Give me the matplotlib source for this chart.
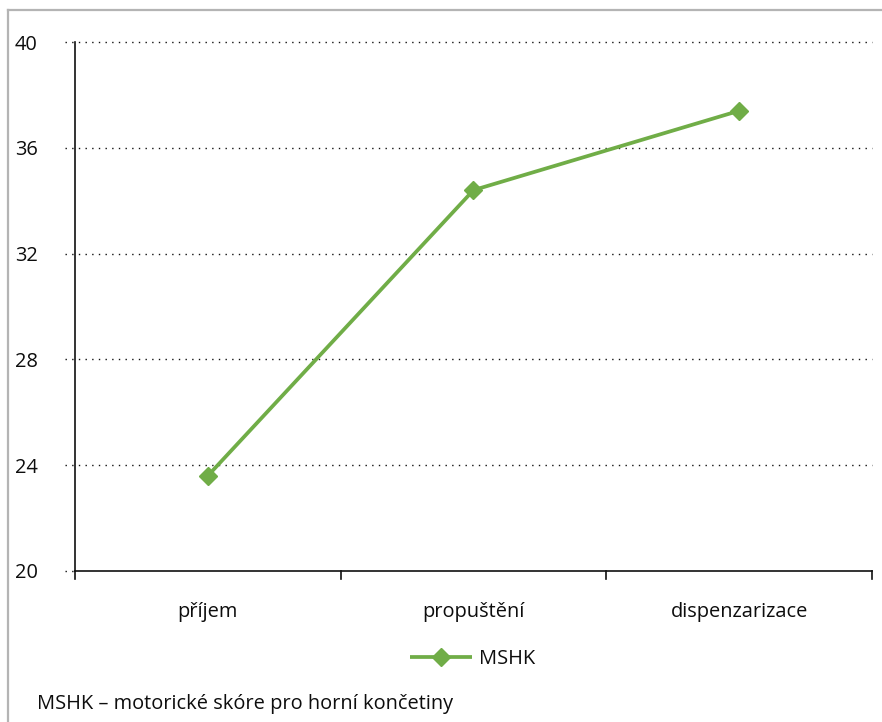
import matplotlib
matplotlib.use("Agg")
import matplotlib.pyplot as plt
from matplotlib.lines import Line2D

plt.rcParams['font.family'] = ['Open Sans', 'DejaVu Sans']

categories = ["příjem", "propuštění", "dispenzarizace"]
values = [23.6, 34.4, 37.4]
series_name = "MSHK"
y_ticks = [20, 24, 28, 32, 36, 40]
footnote = "MSHK – motorické skóre pro horní končetiny"

W, H = 882, 722
fig = plt.figure(figsize=(W / 100, H / 100), dpi=100)
ax = fig.add_axes([75 / W, 1 - 571 / H, (872 - 75) / W, (571 - 42) / H])

green = "#70AD47"
txt = "#0d0d0d"
fs = 14.4
x = list(range(len(categories)))
ax.plot(x, values, color=green, lw=2.7, marker="D", ms=9, label=series_name,
        solid_capstyle="butt", zorder=3)

ax.set_xlim(-0.5, len(categories) - 0.5)
ax.set_ylim(y_ticks[0], y_ticks[-1])
ax.set_yticks(y_ticks)
ax.set_yticklabels([str(t) for t in y_ticks])
ax.set_xticks(x)
ax.set_xticklabels(categories)

# gridlines (dotted, extend slightly left of axis)
dots = (0, (1, 3.8))
for t in y_ticks[1:]:
    ax.plot([-10 / (872 - 75), 1], [t, t], transform=ax.get_yaxis_transform(),
            color="#111111", lw=1.0, ls=dots, clip_on=False, zorder=1)
ax.plot([-10 / (872 - 75), 0], [20, 20], transform=ax.get_yaxis_transform(),
        color="#111111", lw=1.0, ls=dots, clip_on=False, zorder=1)

for s in ["top", "right"]:
    ax.spines[s].set_visible(False)
for s in ["left", "bottom"]:
    ax.spines[s].set_linewidth(1.2)
    ax.spines[s].set_color("#111111")

ax.tick_params(axis="y", length=0, pad=27, labelsize=fs, colors=txt)
ax.tick_params(axis="x", length=0, pad=22.5, labelsize=fs, colors=txt)

# category boundary ticks
for b in [-0.5, 0.5, 1.5, 2.5]:
    ax.plot([b, b], [0, -8 / (571 - 42)], transform=ax.get_xaxis_transform(),
            color="#111111", lw=1.2, clip_on=False)

leg = fig.legend(loc="center", bbox_to_anchor=(473 / W, 1 - 659 / H),
                 frameon=False, fontsize=fs, handlelength=3.1, handletextpad=0.35)
for t in leg.get_texts():
    t.set_color(txt)

fig.text(37 / W, 1 - 704 / H, footnote, fontsize=fs, va="center", ha="left",
         color=txt)

# outer frame (top and left visible)
fig.add_artist(Line2D([8 / W, 8 / W], [0, 1 - 10 / H], transform=fig.transFigure,
                      color="#b4b4b4", lw=1.6))
fig.add_artist(Line2D([8 / W, 1], [1 - 10 / H, 1 - 10 / H], transform=fig.transFigure,
                      color="#b4b4b4", lw=1.6))

fig.savefig("out.png", dpi=100)
